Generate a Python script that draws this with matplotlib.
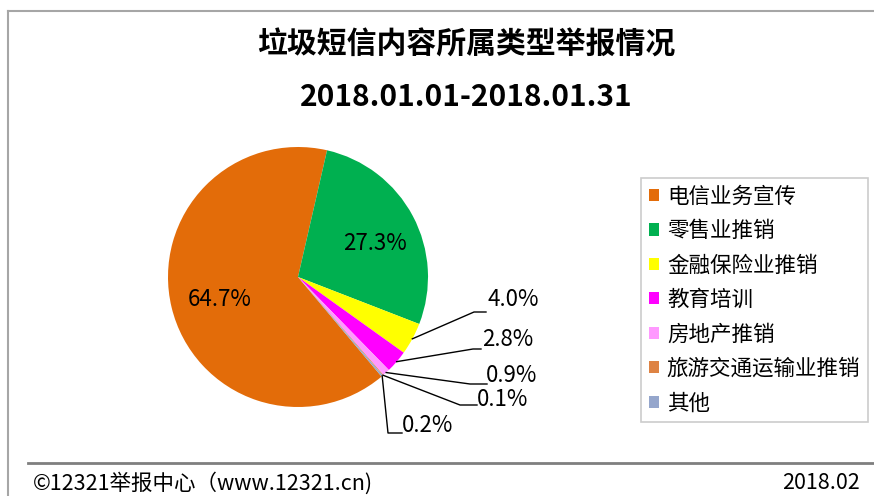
import matplotlib
matplotlib.use("Agg")
import matplotlib.pyplot as plt
import numpy as np
from matplotlib.patches import Patch
from matplotlib.lines import Line2D

plt.rcParams['font.family'] = ['Noto Sans CJK SC', 'DejaVu Sans']

title = "垃圾短信内容所属类型举报情况"
subtitle = "2018.01.01-2018.01.31"
categories = ["电信业务宣传", "零售业推销", "金融保险业推销", "教育培训", "房地产推销", "旅游交通运输业推销", "其他"]
values = [64.7, 27.3, 4.0, 2.8, 0.9, 0.1, 0.2]
colors = ["#E36C09", "#00B050", "#FFFF00", "#FF00FF", "#FF99FF", "#DE8344", "#95A6CC"]
footer_left = "©12321举报中心（www.12321.cn)"
footer_right = "2018.02"

W, H = 874, 496
fig = plt.figure(figsize=(W / 100, H / 100), dpi=100)

# frame lines
fig.add_artist(Line2D([8 / W, 8 / W], [0, 1 - 11 / H], color="#a6a6a6", lw=1.5))
fig.add_artist(Line2D([8 / W, 1], [1 - 11 / H, 1 - 11 / H], color="#a6a6a6", lw=1.5))
fig.add_artist(Line2D([28 / W, 1], [1 - 463 / H, 1 - 463 / H], color="#7f7f7f", lw=2))

# titles
fig.text(466 / W, 1 - 45 / H, title, ha="center", va="center", fontsize=21.5, fontweight="bold")
fig.text(466 / W, 1 - 97 / H, subtitle, ha="center", va="center", fontsize=21.5, fontweight="bold")

# pie
cx, cy, R = 298, 277, 130
ax = fig.add_axes([(cx - R) / W, (H - cy - R) / H, 2 * R / W, 2 * R / H])
wedges, _ = ax.pie(values, colors=colors, startangle=-50, counterclock=False, radius=1,
                   wedgeprops=dict(linewidth=0))
ax.set_xlim(-1, 1)
ax.set_ylim(-1, 1)
ax.set_aspect("auto")
ax.axis("off")

def px(x, y):
    return ((x - cx) / R, (cy - y) / R)

def mid_edge(w, r=1.0):
    a = np.deg2rad((w.theta1 + w.theta2) / 2)
    return (r * np.cos(a), r * np.sin(a))

labels = [f"{v:.1f}%" for v in values]
# inside labels
for i, pos in [(0, (220, 300)), (1, (375, 243))]:
    x, y = px(*pos)
    ax.text(x, y, labels[i], ha="center", va="center", fontsize=16)

# outside labels: (elbow point, line end, text x, text y)
outside = {
    2: ((474, 312), (486, 312), 487, 300),
    3: ((473, 349), (481, 349), 482, 340),
    4: ((470, 384), (487, 384), 486, 376),
    5: ((460, 405), (477, 405), 477, 400),
    6: ((388, 433), (402, 433), 402, 425),
}
for i, (elbow, end, tx, ty) in outside.items():
    sx, sy = mid_edge(wedges[i], 1.0)
    ex, ey = px(*elbow)
    fx, fy = px(*end)
    ax.plot([sx, ex, fx], [sy, ey, fy], color="black", lw=1, clip_on=False)
    x, y = px(tx, ty)
    ax.text(x, y, labels[i], ha="left", va="center", fontsize=16, clip_on=False)

# legend
handles = [Patch(facecolor=c, edgecolor="none") for c in colors]
leg = fig.legend(handles, categories, loc="upper left",
                 bbox_to_anchor=(641 / W, 1 - 178 / H), bbox_transform=fig.transFigure,
                 frameon=True, fancybox=False, edgecolor="#bfbfbf", fontsize=15.5,
                 handlelength=0.5, handleheight=0.5, handletextpad=0.35,
                 labelspacing=0.58, borderpad=0.35, borderaxespad=0)
leg.get_frame().set_linewidth(1.2)

# footer
fig.text(33 / W, 1 - 483 / H, footer_left, ha="left", va="center", fontsize=15.5)
fig.text(860 / W, 1 - 483 / H, footer_right, ha="right", va="center", fontsize=15.5)

fig.savefig("out.png", dpi=100)
